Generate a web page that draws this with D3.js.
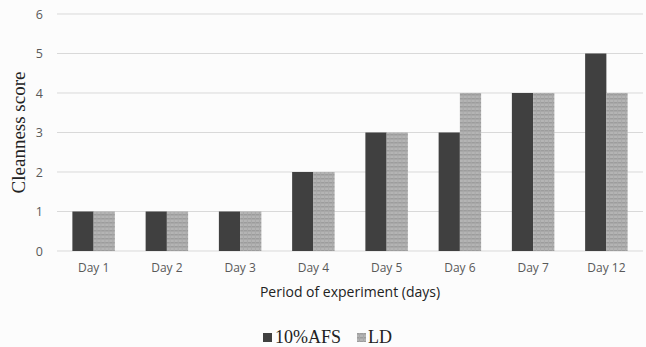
<!DOCTYPE html>
<html>
<head>
<meta charset="utf-8">
<script src="https://cdn.jsdelivr.net/npm/d3@7/dist/d3.min.js"></script>
<style>
  body { margin: 0; background: #fcfcfc; }
  .tick text { font-family: "Open Sans", "DejaVu Sans", sans-serif; fill: #595959; }
</style>
</head>
<body>
<div id="chart"></div>
<script>
// data
var days = ["Day 1", "Day 2", "Day 3", "Day 4", "Day 5", "Day 6", "Day 7", "Day 12"];
var afs = [1, 1, 1, 2, 3, 3, 4, 5];
var ld = [1, 1, 1, 2, 3, 4, 4, 4];
var seriesNames = ["10%AFS", "LD"];
var yTicks = [0, 1, 2, 3, 4, 5, 6];

var svgWidth = 646;
var svgHeight = 347;
var margin = { top: 14, right: 3, bottom: 96, left: 57 };
var width = svgWidth - margin.left - margin.right;
var height = svgHeight - margin.top - margin.bottom;

var svg = d3.select("#chart")
  .append("svg")
  .attr("width", svgWidth)
  .attr("height", svgHeight);

// striped fill for the LD bars
var defs = svg.append("defs");
var pat = defs.append("pattern")
  .attr("id", "ldFill")
  .attr("patternUnits", "userSpaceOnUse")
  .attr("width", 4)
  .attr("height", 4);
pat.append("rect").attr("width", 4).attr("height", 4).attr("fill", "#b4b4b4");
pat.append("rect").attr("width", 4).attr("height", 1.5).attr("fill", "#9c9c9c");
pat.append("rect").attr("x", 0).attr("width", 1).attr("height", 4).attr("fill", "#a8a8a8");

var g = svg.append("g")
  .attr("transform", "translate(" + margin.left + "," + margin.top + ")");

var x0 = d3.scaleBand().domain(days).range([0, width]).paddingInner(0.42).paddingOuter(0.21);
var x1 = d3.scaleBand().domain(seriesNames).range([0, x0.bandwidth()]);
var y = d3.scaleLinear().domain([0, 6]).range([height, 0]);

// gridlines
g.append("g")
  .selectAll("line")
  .data(yTicks)
  .enter()
  .append("line")
  .attr("x1", 0)
  .attr("x2", width)
  .attr("y1", function(d) { return y(d); })
  .attr("y2", function(d) { return y(d); })
  .attr("stroke", "#d9d9d9")
  .attr("stroke-width", 1);

// y axis labels
var yAxis = g.append("g")
  .call(d3.axisLeft(y).tickValues(yTicks).tickFormat(d3.format("d")).tickSize(0).tickPadding(14));
yAxis.select(".domain").remove();
yAxis.selectAll("text").attr("font-size", 12.5);

// x axis labels
var xAxis = g.append("g")
  .attr("transform", "translate(0," + height + ")")
  .call(d3.axisBottom(x0).tickSize(0).tickPadding(12));
xAxis.select(".domain").remove();
xAxis.selectAll("text").attr("font-size", 12);

// bars
var groups = g.selectAll(".day")
  .data(days)
  .enter()
  .append("g")
  .attr("transform", function(d) { return "translate(" + x0(d) + ",0)"; });

groups.append("rect")
  .attr("x", x1("10%AFS"))
  .attr("width", x1.bandwidth())
  .attr("y", function(d, i) { return y(afs[i]); })
  .attr("height", function(d, i) { return y(0) - y(afs[i]); })
  .attr("fill", "#404040");

groups.append("rect")
  .attr("x", x1("LD"))
  .attr("width", x1.bandwidth())
  .attr("y", function(d, i) { return y(ld[i]); })
  .attr("height", function(d, i) { return y(0) - y(ld[i]); })
  .attr("fill", "url(#ldFill)");

// axis titles
svg.append("text")
  .attr("x", margin.left + width / 2)
  .attr("y", 297)
  .attr("text-anchor", "middle")
  .attr("font-family", "'Open Sans', 'DejaVu Sans', sans-serif")
  .attr("font-size", 14)
  .attr("fill", "#222")
  .text("Period of experiment (days)");

svg.append("text")
  .attr("transform", "translate(25," + (margin.top + height / 2) + ") rotate(-90)")
  .attr("text-anchor", "middle")
  .attr("font-family", "'Liberation Serif', 'DejaVu Serif', serif")
  .attr("font-size", 19)
  .attr("fill", "#222")
  .text("Cleanness score");

// legend
var legend = svg.append("g").attr("transform", "translate(263,333)");
legend.append("rect").attr("x", 0).attr("y", 0).attr("width", 9).attr("height", 9).attr("fill", "#404040");
legend.append("text")
  .attr("x", 12).attr("y", 10)
  .attr("font-family", "'Liberation Serif', 'DejaVu Serif', serif")
  .attr("font-size", 18).attr("fill", "#222")
  .text(seriesNames[0]);
legend.append("rect").attr("x", 94).attr("y", 0).attr("width", 9).attr("height", 9).attr("fill", "url(#ldFill)");
legend.append("text")
  .attr("x", 105).attr("y", 10)
  .attr("font-family", "'Liberation Serif', 'DejaVu Serif', serif")
  .attr("font-size", 18).attr("fill", "#222")
  .text(seriesNames[1]);
</script>
</body>
</html>
